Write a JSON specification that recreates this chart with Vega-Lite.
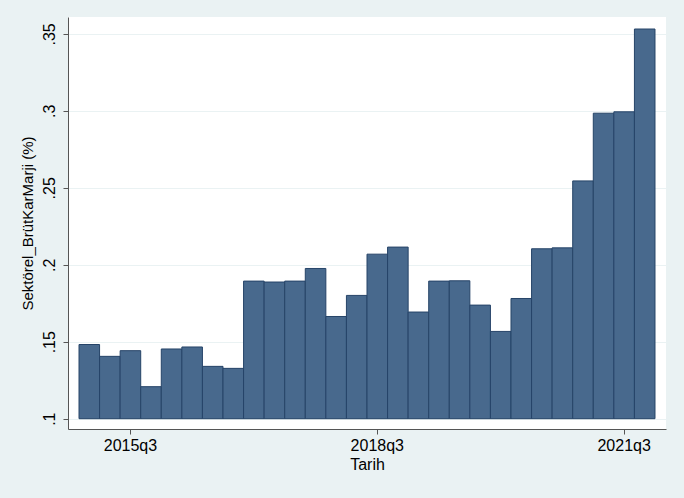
{
  "$schema": "https://vega.github.io/schema/vega-lite/v6.json",
  "width": 598,
  "height": 412,
  "autosize": "none",
  "padding": {"left": 68, "top": 17, "right": 18, "bottom": 69},
  "background": "#EAF2F3",
  "config": {
    "font": "Liberation Sans",
    "view": {"fill": "white", "stroke": null},
    "axis": {
      "labelFont": "Liberation Sans",
      "titleFont": "Liberation Sans",
      "labelFontSize": 16,
      "titleFontSize": 16,
      "labelColor": "#000000",
      "titleColor": "#000000",
      "titleFontWeight": "normal",
      "domainColor": "#555555",
      "tickColor": "#555555",
      "tickSize": 5
    }
  },
  "data": {
    "values": [
      {"Tarih": "2015q1", "marj": 0.1482},
      {"Tarih": "2015q2", "marj": 0.1405},
      {"Tarih": "2015q3", "marj": 0.1442},
      {"Tarih": "2015q4", "marj": 0.1208},
      {"Tarih": "2016q1", "marj": 0.1453},
      {"Tarih": "2016q2", "marj": 0.1466},
      {"Tarih": "2016q3", "marj": 0.1340},
      {"Tarih": "2016q4", "marj": 0.1327},
      {"Tarih": "2017q1", "marj": 0.1894},
      {"Tarih": "2017q2", "marj": 0.1888},
      {"Tarih": "2017q3", "marj": 0.1894},
      {"Tarih": "2017q4", "marj": 0.1976},
      {"Tarih": "2018q1", "marj": 0.1664},
      {"Tarih": "2018q2", "marj": 0.1801},
      {"Tarih": "2018q3", "marj": 0.2069},
      {"Tarih": "2018q4", "marj": 0.2115},
      {"Tarih": "2019q1", "marj": 0.1693},
      {"Tarih": "2019q2", "marj": 0.1894},
      {"Tarih": "2019q3", "marj": 0.1896},
      {"Tarih": "2019q4", "marj": 0.1738},
      {"Tarih": "2020q1", "marj": 0.1567},
      {"Tarih": "2020q2", "marj": 0.1781},
      {"Tarih": "2020q3", "marj": 0.2104},
      {"Tarih": "2020q4", "marj": 0.2110},
      {"Tarih": "2021q1", "marj": 0.2545},
      {"Tarih": "2021q2", "marj": 0.2985},
      {"Tarih": "2021q3", "marj": 0.2994},
      {"Tarih": "2021q4", "marj": 0.3532}
    ]
  },
  "mark": {"type": "bar", "color": "#48698D", "stroke": "#264468", "strokeWidth": 1},
  "encoding": {
    "x": {
      "field": "Tarih",
      "type": "ordinal",
      "sort": null,
      "title": "Tarih",
      "scale": {"paddingInner": 0, "paddingOuter": 0.535},
      "axis": {
        "values": ["2015q3", "2018q3", "2021q3"],
        "labelAngle": 0,
        "labelPadding": 3,
        "titlePadding": 3,
        "grid": false
      }
    },
    "y": {
      "field": "marj",
      "type": "quantitative",
      "title": "Sektörel_BrütKarMarji (%)",
      "scale": {"domain": [0.0933, 0.361], "nice": false, "zero": false},
      "axis": {
        "values": [0.1, 0.15, 0.2, 0.25, 0.3, 0.35],
        "labelExpr": "replace(format(datum.value, '.2~f'), '0.', '.')",
        "labelAngle": -90,
        "labelAlign": "center",
        "labelBaseline": "bottom",
        "labelPadding": 6,
        "titlePadding": 6,
        "titleFontSize": 15,
        "grid": true,
        "gridColor": "#EAF2F3",
        "gridWidth": 1.2
      }
    },
    "y2": {"datum": 0.1}
  }
}
